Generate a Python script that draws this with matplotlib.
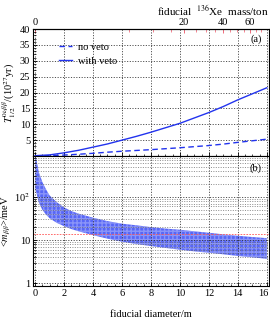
import numpy as np
import matplotlib
matplotlib.use("Agg")
import matplotlib.pyplot as plt
import matplotlib.transforms as mtransforms
from matplotlib.ticker import MultipleLocator, FixedLocator, FixedFormatter, NullFormatter

plt.rcParams['font.family'] = ['Liberation Serif', 'DejaVu Serif']
plt.rcParams['mathtext.fontset'] = 'stix'

# ---- data ----
diam = [0, 1, 2, 3, 4, 5, 6, 7, 8, 9, 10, 11, 12, 13, 14, 15, 16]
t_veto = [0.1, 0.35, 1.0, 1.8, 2.8, 3.8, 5.0, 6.2, 7.5, 8.9, 10.3, 12.0, 13.7, 15.6, 17.7, 19.6, 21.5]
t_noveto = [0.05, 0.12, 0.3, 0.55, 0.85, 1.2, 1.5, 1.75, 2.0, 2.3, 2.6, 2.95, 3.3, 3.75, 4.3, 4.8, 5.3]

band_d = [0.0, 0.1, 0.25, 0.5, 0.75, 1.0, 1.5, 2, 2.5, 3, 4, 5, 6, 7, 8, 9, 10, 11, 12, 13, 14, 15, 16]
band_hi = [1000, 700, 380, 220, 150, 108, 75, 57, 47, 41, 33, 27.5, 24, 22, 20, 18.5, 17.4, 16, 14.8, 13.6, 12.6, 11.8, 11.1]
band_lo = [160, 120, 75, 50, 39, 32, 25, 21, 18, 16, 13, 10.8, 9.2, 8.1, 7.3, 6.6, 6.0, 5.5, 5.1, 4.7, 4.3, 4.0, 3.7]
m_limit = 13.7

mass_ticks = [0, 20, 40, 60]
mass_minor = [5, 10, 15, 25, 30, 35, 45, 50, 55, 65, 70]
XE_T_PER_M3 = 0.035  # fiducial 136Xe mass per m^3

BLUE = '#2233ee'
GRID = dict(color='#222222', linestyle=(0, (1.5, 2)), linewidth=0.55)
GRID_MINOR = dict(color='#666666', linestyle=(0, (1.5, 2)), linewidth=0.5)

fig = plt.figure(figsize=(2.7, 3.2), dpi=100)
ax1 = fig.add_axes([0.122, 0.5125, 0.874, 0.3965])
ax2 = fig.add_axes([0.122, 0.106, 0.874, 0.4065], sharex=ax1)

# ---- panel (a) ----
ax1.plot(diam, t_noveto, color=BLUE, lw=1.0, ls=(0, (4, 2.5)), label='no veto')
ax1.plot(diam, t_veto, color=BLUE, lw=1.0, label='with veto')
ax1.set_xlim(-0.15, 16.15)
ax1.set_ylim(0, 40)
ax1.yaxis.set_major_locator(FixedLocator([5, 10, 15, 20, 25, 30, 35, 40]))
ax1.yaxis.set_minor_locator(MultipleLocator(1))
ax1.xaxis.set_major_locator(MultipleLocator(2))
ax1.xaxis.set_minor_locator(MultipleLocator(0.5))
ax1.grid(True, which='major', **GRID)
ax1.tick_params(axis='x', which='both', labelbottom=False, bottom=True, top=False, direction='in')
ax1.tick_params(axis='y', which='both', direction='in', right=False, labelsize=7.5, pad=2)
ax1.tick_params(which='major', length=3, width=0.6)
ax1.tick_params(which='minor', length=1.8, width=0.5)
ax1.set_ylabel(r'$T^{0\nu\beta\beta}_{1/2}$/(10$^{27}$yr)', fontsize=7.5, labelpad=1)
ax1.text(0.945, 0.92, '(a)', transform=ax1.transAxes, ha='center', va='center', fontsize=7.5)
leg = ax1.legend(loc='upper left', bbox_to_anchor=(0.07, 0.97), frameon=False, fontsize=7.5,
                 handlelength=1.3, handletextpad=0.5, labelspacing=0.45)

def d2m(d):
    d = np.asarray(d, dtype=float)
    return XE_T_PER_M3 * np.pi / 6 * np.sign(d) * np.abs(d) ** 3

def m2d(m):
    m = np.asarray(m, dtype=float)
    return np.sign(m) * np.abs(m / (XE_T_PER_M3 * np.pi / 6)) ** (1 / 3)

sec = ax1.secondary_xaxis('top', functions=(d2m, m2d))
sec.xaxis.set_major_locator(FixedLocator(mass_ticks))
sec.xaxis.set_minor_locator(FixedLocator(mass_minor))
sec.tick_params(which='major', direction='in', length=3, width=0.6, color='#ee5566', labelsize=7.5, pad=1.5)
sec.tick_params(which='minor', direction='in', length=1.8, width=0.5, color='#ee5566')
sec.set_xlabel(r'fiducial  $^{136}$Xe  mass/ton', fontsize=8, loc='right', labelpad=2)

# ---- panel (b) ----
ax2.fill_between(band_d, band_lo, band_hi, facecolor='#4a5af6', edgecolor='none', alpha=0.92)
ax2.fill_between(band_d, band_lo, band_hi, facecolor='none', edgecolor=(1, 1, 1, 0.3),
                 hatch='++++', linewidth=0)
ax2.axhline(m_limit, color='#ff5555', lw=0.6, ls=(0, (2, 1.5)))
ax2.set_yscale('log')
ax2.set_ylim(0.866, 880)
ax2.yaxis.set_major_locator(FixedLocator([1, 10, 100]))
ax2.yaxis.set_major_formatter(FixedFormatter(['1', '10', r'10$^2$']))
ax2.yaxis.set_minor_locator(FixedLocator([k * 10.0 ** e for e in range(0, 3) for k in range(2, 10)]))
ax2.yaxis.set_minor_formatter(NullFormatter())
ax2.grid(True, which='major', **GRID)
ax2.grid(True, which='minor', axis='y', **GRID_MINOR)
ax2.tick_params(axis='both', which='both', direction='in', top=False, right=False, labelsize=7.5, pad=2)
ax2.tick_params(which='major', length=3, width=0.6)
ax2.tick_params(which='minor', length=1.8, width=0.5)
ax2.set_ylabel(r'<$m_{\beta\beta}$>/meV', fontsize=7.5, labelpad=1)
ax2.set_xlabel('fiducial diameter/m', fontsize=7.5, labelpad=9)
ax2.text(0.945, 0.91, '(b)', transform=ax2.transAxes, ha='center', va='center', fontsize=7.5)

for a in (ax1, ax2):
    for s in a.spines.values():
        s.set_linewidth(0.8)

# nudge the last diameter tick label inward so it stays inside the canvas
fig.canvas.draw()
for lab in ax2.get_xticklabels():
    if lab.get_text() == '16':
        lab.set_transform(lab.get_transform() +
                          mtransforms.ScaledTranslation(-3 / 100, 0, fig.dpi_scale_trans))

fig.savefig('out.png', dpi=100)
